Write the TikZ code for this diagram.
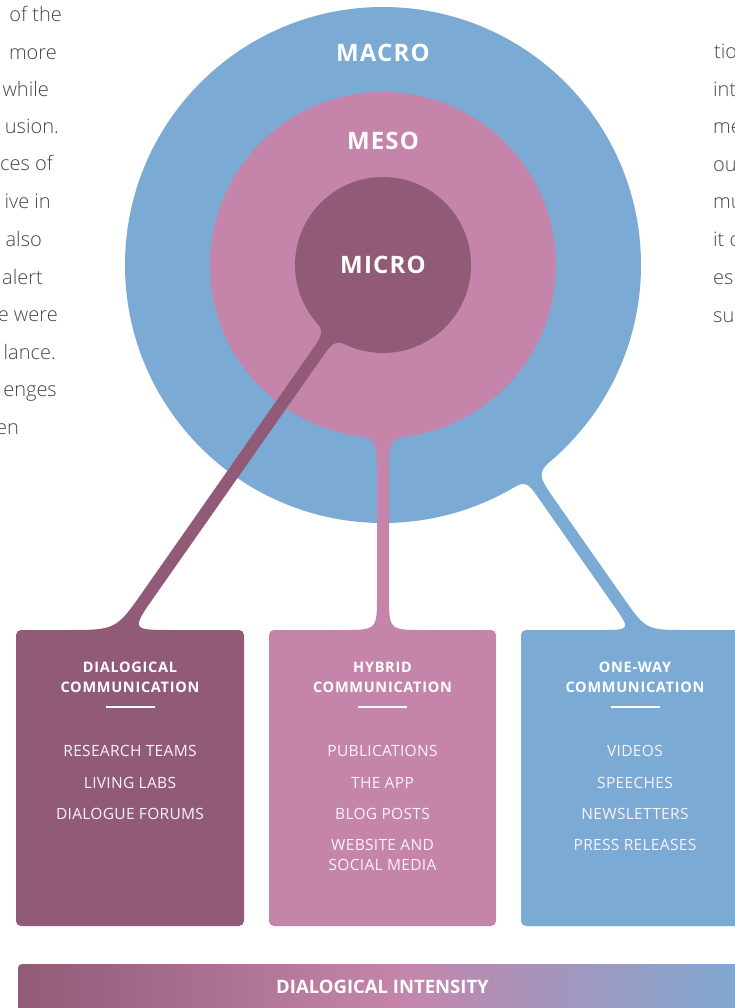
\documentclass[tikz,border=0pt]{standalone}
\usepackage{fontspec}
\setmainfont{Open Sans}
\newfontfamily\lightfont{Open Sans Light}
\definecolor{mauve}{RGB}{145,91,119}
\definecolor{rose}{RGB}{197,133,171}
\definecolor{sky}{RGB}{123,170,212}
\definecolor{bodygray}{RGB}{70,70,70}
\definecolor{itemwhite}{RGB}{250,243,247}
\begin{document}
\begin{tikzpicture}[x=1pt,y=-1pt,
  ringlabel/.style={font=\fontsize{24}{28}\selectfont\bfseries\addfontfeature{LetterSpace=5}, text=white, inner sep=0pt},
  headline/.style={font=\fontsize{14.5}{20}\selectfont\bfseries\addfontfeature{LetterSpace=5}, text=white, inner sep=0pt},
  itemline/.style={font=\fontsize{15.5}{20}\selectfont\addfontfeature{LetterSpace=2}, text=itemwhite, inner sep=0pt},
  bodyleft/.style={font=\lightfont\fontsize{20}{22}\selectfont, text=bodygray, inner sep=0pt, anchor=base east},
  bodyright/.style={font=\lightfont\fontsize{20}{22}\selectfont, text=bodygray, inner sep=0pt, anchor=base west},
  card/.style={rounded corners=5pt},
  barlabel/.style={font=\fontsize{18.5}{22}\selectfont\bfseries, text=white, inner sep=0pt},
]
\useasboundingbox (0,0) rectangle (735,1008);
\clip (0,0) rectangle (735,1008);

% ---- macro ring and its connector
\fill[sky] (383,265) circle[radius=258];
\fill[sky] (504.3,492.7) .. controls (525.8,479.9) .. (540.15,500.4)
  -- (613.1,604.6) .. controls (630.9,630) .. (599.9,630)
  -- (599.9,640) -- (686.9,640) -- (686.9,630)
  .. controls (645.9,630) .. (622.4,596.4)
  -- (556,501.5) .. controls (535.9,472.8) .. (562.6,450.2)
  -- (450,300) -- cycle;

% ---- meso ring and its connector
\fill[rose] (383,265) circle[radius=173];
\fill[rose] (342,433) .. controls (377,438) .. (377,473)
  -- (377,595) .. controls (377,630) .. (342,630)
  -- (342,640) -- (424,640) -- (424,630)
  .. controls (389,630) .. (389,595)
  -- (389,473) .. controls (389,438) .. (424,433)
  -- (383,400) -- cycle;

% ---- micro ring and its connector
\fill[mauve] (383,265) circle[radius=88];
\fill[mauve] (308.4,311.6) .. controls (325.1,331.3) .. (310.2,352.6)
  -- (144.1,589.9) .. controls (116,630) .. (67,630)
  -- (67,640) -- (173,640) -- (173,630)
  .. controls (131,630) .. (155.1,595.6)
  -- (320.6,359.5) .. controls (335,339) .. (357.7,349.3)
  -- (383,265) -- cycle;

\node[ringlabel] (lmacro) at (383,53) {MACRO};
\node[ringlabel] (lmeso) at (383,141) {MESO};
\node[ringlabel] (lmicro) at (383,265) {MICRO};

% ---- cards
\fill[mauve, card] (16,630) rectangle (244,926);
\fill[rose, card] (269,630) rectangle (496,926);
\fill[sky, card] (521,630) rectangle (749,926);

\node[headline] (h1a) at (130,667) {DIALOGICAL};
\node[headline] (h1b) at (130,687) {COMMUNICATION};
\fill[white] (105.5,706) rectangle (154.5,708);
\node[itemline] (i1a) at (130,751) {RESEARCH TEAMS};
\node[itemline] (i1b) at (130,783) {LIVING LABS};
\node[itemline] (i1c) at (130,814) {DIALOGUE FORUMS};

\node[headline] (h2a) at (382.5,667) {HYBRID};
\node[headline] (h2b) at (382.5,687) {COMMUNICATION};
\fill[white] (358,706) rectangle (407,708);
\node[itemline] (i2a) at (382.5,751) {PUBLICATIONS};
\node[itemline] (i2b) at (382.5,783) {THE APP};
\node[itemline] (i2c) at (382.5,814) {BLOG POSTS};
\node[itemline] (i2d) at (382.5,845) {WEBSITE AND};
\node[itemline] (i2e) at (382.5,865) {SOCIAL MEDIA};

\node[headline] (h3a) at (635,667) {ONE-WAY};
\node[headline] (h3b) at (635,687) {COMMUNICATION};
\fill[white] (610.5,706) rectangle (659.5,708);
\node[itemline] (i3a) at (635,751) {VIDEOS};
\node[itemline] (i3b) at (635,783) {SPEECHES};
\node[itemline] (i3c) at (635,814) {NEWSLETTERS};
\node[itemline] (i3d) at (635,845) {PRESS RELEASES};

% ---- gradient bar
\begin{scope}
  \clip[rounded corners=4pt] (18,964) rectangle (760,1030);
  \shade[left color=mauve, right color=rose] (18,964) rectangle (400,1030);
  \shade[left color=rose, right color=sky] (399.5,964) rectangle (760,1030);
\end{scope}
\node[barlabel] (bar) at (382.5,987) {DIALOGICAL INTENSITY};

% ---- page text fragments
\node[bodyleft] (t1) at (62,22) {of the};
\node[bodyleft] (t2) at (57,60) {more};
\node[bodyleft] (t3) at (49,97) {while};
\node[bodyleft] (t4) at (59,134) {usion.};
\node[bodyleft] (t5) at (53,171) {ces of};
\node[bodyleft] (t6) at (51,209) {ive in};
\node[bodyleft] (t7) at (42,247) {also};
\node[bodyleft] (t8) at (43,284) {alert};
\node[bodyleft] (t9) at (58,321) {e were};
\node[bodyleft] (t10) at (56,359) {lance.};
\node[bodyleft] (t11) at (57,396) {enges};
\node[bodyleft] (t12) at (19,434) {en};

\node[bodyright] (r1) at (714,59) {tio};
\node[bodyright] (r2) at (713,97) {int};
\node[bodyright] (r3) at (713,134) {me};
\node[bodyright] (r4) at (713,172) {ou};
\node[bodyright] (r5) at (713,209) {mu};
\node[bodyright] (r6) at (713,247) {it c};
\node[bodyright] (r7) at (713,284) {es};
\node[bodyright] (r8) at (713,322) {su};
\end{tikzpicture}
\end{document}
